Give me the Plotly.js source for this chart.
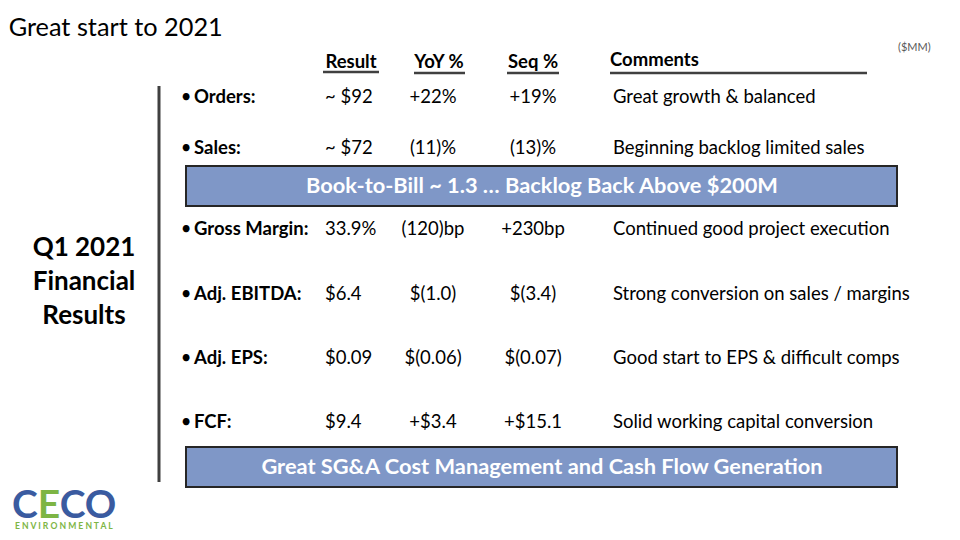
<!DOCTYPE html>
<html>
<head>
<meta charset="utf-8">
<script src="https://cdn.plot.ly/plotly-3.0.1.min.js"></script>
<style>html,body{margin:0;padding:0;background:#fff;}#chart{width:960px;height:540px;}</style>
</head>
<body>
<div id="chart"></div>
<script>
// ---- data ----
const slideTitle = "Great start to 2021";
const unitNote = "($MM)";
const headers = ["Result", "YoY %", "Seq %", "Comments"];
const metrics = ["Orders:", "Sales:", "Gross Margin:", "Adj. EBITDA:", "Adj. EPS:", "FCF:"];
const resultVals = ["~ $92", "~ $72", "33.9%", "$6.4", "$0.09", "$9.4"];
const yoyVals = ["+22%", "(11)%", "(120)bp", "$(1.0)", "$(0.06)", "+$3.4"];
const seqVals = ["+19%", "(13)%", "+230bp", "$(3.4)", "$(0.07)", "+$15.1"];
const comments = ["Great growth & balanced", "Beginning backlog limited sales",
  "Continued good project execution", "Strong conversion on sales / margins",
  "Good start to EPS & difficult comps", "Solid working capital conversion"];
const banners = ["Book-to-Bill ~ 1.3 … Backlog Back Above $200M",
  "Great SG&A Cost Management and Cash Flow Generation"];
const sideLabel = ["Q1 2021", "Financial", "Results"];

// ---- layout (positions & styles) ----
const rowY = [98, 149, 230, 295, 359, 423];
const colX = {bullet: 186, metric: 194, result: 325, yoy: 433, seq: 533, comment: 613};
const headY = 63;
const bannerY = [188, 469];
const FONT = "Lato, 'Open Sans', sans-serif";
const blue = "#7F97C7";
const FS = 18.5;

function textTrace(xs, ys, txt, pos, size, color, bold) {
  return {
    type: "scatter", mode: "text", x: xs, y: ys,
    text: txt.map(t => bold ? "<b>" + t + "</b>" : t),
    textposition: pos,
    textfont: {family: FONT, size: size, color: color},
    hoverinfo: "skip", showlegend: false, cliponaxis: false
  };
}
const rep = (v, n) => Array(n).fill(v);
const n = metrics.length;

const traces = [
  textTrace(rep(colX.bullet, n), rowY, rep("•", n), "middle center", FS, "#000", false),
  textTrace(rep(colX.metric, n), rowY, metrics, "middle right", FS, "#000", true),
  textTrace(rep(colX.result, n), rowY, resultVals, "middle right", FS, "#000", false),
  textTrace(rep(colX.yoy, n), rowY, yoyVals, "middle center", FS, "#000", false),
  textTrace(rep(colX.seq, n), rowY, seqVals, "middle center", FS, "#000", false),
  textTrace(rep(colX.comment, n), rowY, comments, "middle right", FS, "#000", false),
  textTrace([351, 439, 533], rep(headY, 3), headers.slice(0, 3), "middle center", FS, "#000", true),
  textTrace([610], [61], [headers[3]], "middle right", FS, "#000", true),
  textTrace([542, 542], bannerY, banners, "middle center", 21.8, "#ffffff", true),
  textTrace([84, 84, 84], [249, 283, 317], sideLabel, "middle center", 26, "#000", true)
];

const line = (x0, y0, x1, y1, w) => ({type: "line", xref: "x", yref: "y", x0, y0, x1, y1,
  line: {color: "#404040", width: w}});
const shapes = [
  line(323, 72, 379, 72, 2.5), line(414, 73, 465, 73, 2.5), line(507, 73, 559, 73, 2.5),
  line(610, 73, 867, 73, 2.5),
  line(159, 86, 159, 482, 3),
  {type: "rect", xref: "x", yref: "y", x0: 186, x1: 897, y0: 166, y1: 206,
    fillcolor: blue, line: {color: "#262626", width: 2}, layer: "below"},
  {type: "rect", xref: "x", yref: "y", x0: 186, x1: 897, y0: 447, y1: 487,
    fillcolor: blue, line: {color: "#262626", width: 2}, layer: "below"}
];

const annotations = [
  {xref: "x", yref: "y", x: 933, y: 46, text: unitNote, showarrow: false, xanchor: "right",
    font: {family: FONT, size: 11, color: "#595959"}},
  {xref: "x", yref: "y", x: 10, y: 503, xanchor: "left", yanchor: "middle", showarrow: false,
    text: "<b>C<span style='color:#7DB544'>E</span>CO</b>",
    font: {family: FONT, size: 39, color: "#3A5BA0"}},
  {xref: "x", yref: "y", x: 13, y: 526, xanchor: "left", yanchor: "middle", showarrow: false,
    text: "<b>E N V I R O N M E N T A L</b>",
    font: {family: FONT, size: 8.6, color: "#7DB544"}}
];

const layout = {
  width: 960, height: 540,
  margin: {l: 0, r: 0, t: 0, b: 0},
  paper_bgcolor: "#ffffff", plot_bgcolor: "#ffffff",
  title: {text: slideTitle, x: 0.009, xanchor: "left", xref: "paper", y: 0.95, yanchor: "middle", yref: "container",
    font: {family: FONT, size: 25.3, color: "#000"}},
  xaxis: {range: [0, 960], visible: false, fixedrange: true},
  yaxis: {range: [540, 0], visible: false, fixedrange: true},
  shapes, annotations, showlegend: false
};

Plotly.newPlot("chart", traces, layout, {staticPlot: true, displayModeBar: false});
</script>
</body>
</html>
